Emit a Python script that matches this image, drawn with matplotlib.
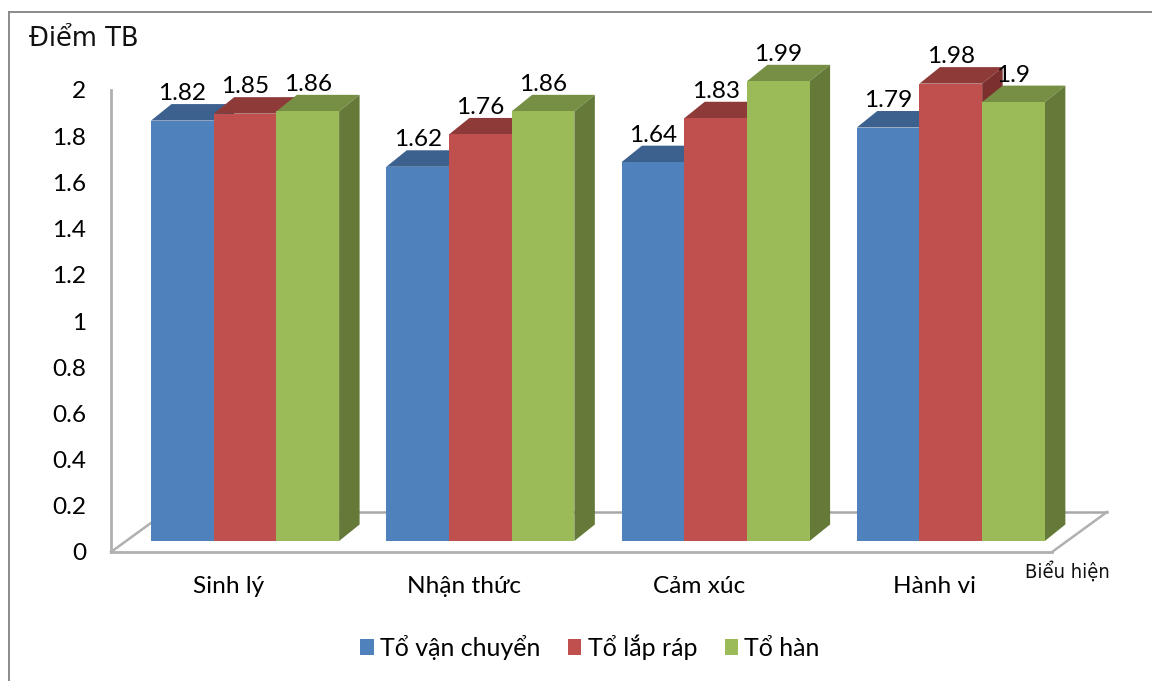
import matplotlib
matplotlib.use('Agg')
import matplotlib.pyplot as plt
from matplotlib.lines import Line2D
from matplotlib.patches import Patch, Polygon

plt.rcParams['font.family'] = ['Lato', 'Noto Sans', 'DejaVu Sans']

categories = ['Sinh lý', 'Nhận thức', 'Cảm xúc', 'Hành vi']
series_names = ['Tổ vận chuyển', 'Tổ lắp ráp', 'Tổ hàn']
van_chuyen = [1.82, 1.62, 1.64, 1.79]
lap_rap = [1.85, 1.76, 1.83, 1.98]
han = [1.86, 1.86, 1.99, 1.9]
y_ticks = [0, 0.2, 0.4, 0.6, 0.8, 1, 1.2, 1.4, 1.6, 1.8, 2]

front_colors = ['#4F81BD', '#C0504D', '#9BBB59']
top_colors = ['#3C618F', '#8E3A38', '#778F45']
side_colors = ['#335378', '#7C302E', '#657A38']
grey = '#B0B0B0'

W, H = 1152, 681
fig = plt.figure(figsize=(W / 100, H / 100), dpi=100)
ax = fig.add_axes([111 / W, (H - 552) / H, 941 / W, 462 / H])
ax.set_xlim(-0.5, 3.5)
ax.set_ylim(0, 2)

# one pixel in data units, used for the fake 3d depth
px = 4 / 941
py = 2 / 462
bar_w = 0.2665
base_dx, base_dy = 16.5 * px, 11 * py
depth_dx, depth_dy = 20.5 * px, 16.5 * py

# floor of the 3d box
floor_dx, floor_dy = 55 * px, 40 * py
ax.plot([-0.5, -0.5 + floor_dx], [0, floor_dy], color=grey, lw=1.8, clip_on=False, zorder=1)
ax.plot([-0.5 + floor_dx, 3.5 + floor_dx], [floor_dy, floor_dy], color='#A8A8A8', lw=1.8, clip_on=False, zorder=1)
ax.plot([3.5, 3.5 + floor_dx], [0, floor_dy], color=grey, lw=1.8, clip_on=False, zorder=1)

z = 2
for s, values in enumerate([van_chuyen, lap_rap, han]):
    for i, v in enumerate(values):
        x0 = i - 0.4 + s * bar_w + base_dx
        x1 = x0 + bar_w
        top = base_dy + v
        # top and right faces first, the front goes over them
        ax.add_patch(Polygon([(x0, top), (x1, top), (x1 + depth_dx, top + depth_dy), (x0 + depth_dx, top + depth_dy)],
                             facecolor=top_colors[s], edgecolor='none', clip_on=False, zorder=z))
        ax.add_patch(Polygon([(x1, base_dy), (x1 + depth_dx, base_dy + depth_dy), (x1 + depth_dx, top + depth_dy), (x1, top)],
                             facecolor=side_colors[s], edgecolor='none', clip_on=False, zorder=z))
        ax.bar(x0, v, bar_w, bottom=base_dy, align='edge', color=front_colors[s], clip_on=False, zorder=z + 1)
        ax.text(x0 + bar_w / 2, top + 27 * py, f'{v:g}', ha='center', va='center', fontsize=17.6, color='black', zorder=20)
    z += 2

ax.set_xticks(range(len(categories)))
ax.set_xticklabels(categories, fontsize=17.6)
ax.set_yticks(y_ticks)
ax.set_yticklabels([f'{t:g}' for t in y_ticks], fontsize=17.6)
ax.tick_params(axis='x', length=0, pad=17.5)
ax.tick_params(axis='y', length=0, pad=18)

for name in ['top', 'right']:
    ax.spines[name].set_visible(False)
for name in ['left', 'bottom']:
    ax.spines[name].set_color(grey)
    ax.spines[name].set_linewidth(2)

# outer chart border, open at right and bottom
border = '#8A8A8A'
fig.add_artist(Line2D([9 / W, 9 / W], [0, 1 - 12 / H], color=border, lw=1.4))
fig.add_artist(Line2D([9 / W, 1], [1 - 12 / H, 1 - 12 / H], color=border, lw=1.4))

fig.text(29 / W, 1 - 39 / H, 'Điểm TB', family='DejaVu Sans', fontsize=18.5, ha='left', va='center', color='#111111')
fig.text(1067 / W, 1 - 572 / H, 'Biểu hiện', family='DejaVu Sans', stretch='condensed', fontsize=14.5, ha='center', va='center', color='#111111')

handles = [Patch(facecolor=c, edgecolor='none') for c in front_colors]
fig.legend(handles, series_names, loc='center', bbox_to_anchor=(590 / W, 1 - 647 / H), ncol=3, frameon=False,
           fontsize=18, handlelength=0.54, handleheight=0.6, handletextpad=0.25, columnspacing=1.1,
           borderpad=0, borderaxespad=0)

fig.savefig('out.png', dpi=100)
